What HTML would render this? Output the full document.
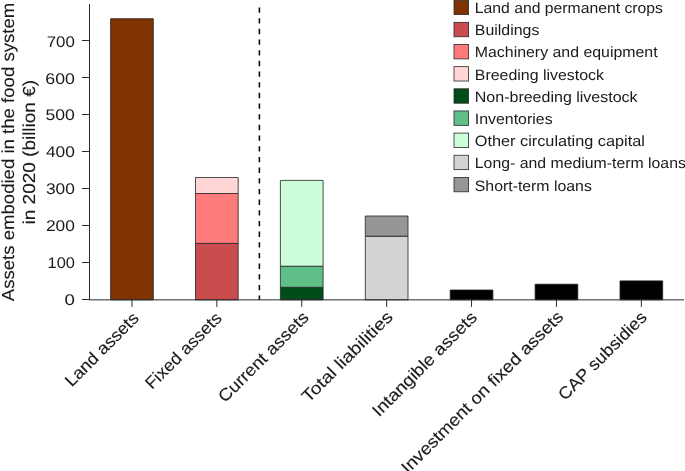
<!DOCTYPE html>
<html>
<head>
<meta charset="utf-8">
<style>
html,body{margin:0;padding:0;background:#fff;}
body{width:685px;height:471px;overflow:hidden;}
svg{display:block;will-change:transform;text-rendering:geometricPrecision;}
text{font-family:"Liberation Sans",sans-serif;fill:#1a1a1a;}
.b text{stroke:#1a1a1a;stroke-width:0.12px;}
</style>
</head>
<body>
<svg width="685" height="471" viewBox="0 0 685 471">
<rect width="685" height="471" fill="#fff"/>
<g stroke="#222" stroke-width="0.8" stroke-linejoin="round">
<rect x="110.60" y="18.70" width="42.70" height="281.15" fill="#7f3300"/>
<rect x="195.50" y="243.40" width="42.70" height="56.45" fill="#cb4c4f"/>
<rect x="195.50" y="193.50" width="42.70" height="49.90" fill="#ff7b7b"/>
<rect x="195.50" y="177.50" width="42.70" height="16.00" fill="#ffd5d5"/>
<rect x="280.40" y="287.30" width="42.70" height="12.55" fill="#004d1a"/>
<rect x="280.40" y="266.20" width="42.70" height="21.10" fill="#5fbf86"/>
<rect x="280.40" y="180.40" width="42.70" height="85.80" fill="#ccffd9"/>
<rect x="365.30" y="236.20" width="42.70" height="63.65" fill="#d3d3d3"/>
<rect x="365.30" y="216.00" width="42.70" height="20.20" fill="#969696"/>
<rect x="450.20" y="290.00" width="42.70" height="9.85" fill="#000"/>
<rect x="535.10" y="284.20" width="42.70" height="15.65" fill="#000"/>
<rect x="620.00" y="280.90" width="42.70" height="18.95" fill="#000"/>
</g>
<g stroke="#2a2a2a" stroke-width="1" fill="none">
<path d="M89.5 4V299.85"/>
<path d="M89 299.85H684"/>
<path d="M82 40.5H89.5M82 77.5H89.5M82 114.5H89.5M82 151.5H89.5M82 188.5H89.5M82 225.5H89.5M82 262.5H89.5M82 299.5H89.5"/>
<path d="M131.95 299.85V306.9M216.85 299.85V306.9M301.75 299.85V306.9M386.65 299.85V306.9M471.55 299.85V306.9M556.45 299.85V306.9M641.35 299.85V306.9"/>
<path d="M259.4 7.5V299.85" stroke-dasharray="5.33 5.34" stroke="#000" stroke-width="1.5"/>
</g>
<g font-size="15.4" text-anchor="end">
<text x="74.9" y="46.70" textLength="28.2" lengthAdjust="spacingAndGlyphs">700</text>
<text x="74.9" y="83.53" textLength="29.6" lengthAdjust="spacingAndGlyphs">600</text>
<text x="74.9" y="120.36" textLength="29.4" lengthAdjust="spacingAndGlyphs">500</text>
<text x="74.9" y="157.19" textLength="29.0" lengthAdjust="spacingAndGlyphs">400</text>
<text x="74.9" y="194.02" textLength="29.0" lengthAdjust="spacingAndGlyphs">300</text>
<text x="74.9" y="230.85" textLength="29.0" lengthAdjust="spacingAndGlyphs">200</text>
<text x="74.9" y="267.68" textLength="27.4" lengthAdjust="spacingAndGlyphs">100</text>
<text x="74.9" y="304.51" textLength="10.4" lengthAdjust="spacingAndGlyphs">0</text>
</g>
<g class="b" font-size="17.4" text-anchor="middle">
<text transform="translate(13.8,152) rotate(-90)" textLength="298.5" lengthAdjust="spacingAndGlyphs">Assets embodied in the food system</text>
<text transform="translate(35,152.2) rotate(-90)" textLength="144.5" lengthAdjust="spacingAndGlyphs">in 2020 (billion €)</text>
</g>
<g class="b" font-size="17" text-anchor="end">
<text transform="translate(139.9,319.3) rotate(-45)" textLength="96.45" lengthAdjust="spacingAndGlyphs">Land assets</text>
<text transform="translate(222.9,319.3) rotate(-45)" textLength="100.1" lengthAdjust="spacingAndGlyphs">Fixed assets</text>
<text transform="translate(309.9,318.4) rotate(-45)" textLength="120.1" lengthAdjust="spacingAndGlyphs">Current assets</text>
<text transform="translate(393.8,318.0) rotate(-45)" textLength="120.7" lengthAdjust="spacingAndGlyphs">Total liabilities</text>
<text transform="translate(478.0,318.5) rotate(-45)" textLength="140.0" lengthAdjust="spacingAndGlyphs">Intangible assets</text>
<text transform="translate(564.3,317.9) rotate(-45)" textLength="221.0" lengthAdjust="spacingAndGlyphs">Investment on fixed assets</text>
<text transform="translate(647.8,318.4) rotate(-45)" textLength="117.0" lengthAdjust="spacingAndGlyphs">CAP subsidies</text>
</g>
<g stroke="#2a2a2a" stroke-width="0.8">
<rect x="454.0" y="0.20" width="14.6" height="14.4" fill="#7f3300"/>
<rect x="454.0" y="22.35" width="14.6" height="14.4" fill="#cb4c4f"/>
<rect x="454.0" y="44.50" width="14.6" height="14.4" fill="#ff7b7b"/>
<rect x="454.0" y="66.65" width="14.6" height="14.4" fill="#ffd5d5"/>
<rect x="454.0" y="88.80" width="14.6" height="14.4" fill="#004d1a"/>
<rect x="454.0" y="110.95" width="14.6" height="14.4" fill="#5fbf86"/>
<rect x="454.0" y="133.10" width="14.6" height="14.4" fill="#ccffd9"/>
<rect x="454.0" y="155.25" width="14.6" height="14.4" fill="#d3d3d3"/>
<rect x="454.0" y="177.40" width="14.6" height="14.4" fill="#969696"/>
</g>
<g font-size="15">
<text x="474.8" y="12.95" textLength="188.2" lengthAdjust="spacingAndGlyphs">Land and permanent crops</text>
<text x="474.8" y="35.17" textLength="64.6" lengthAdjust="spacingAndGlyphs">Buildings</text>
<text x="474.8" y="57.39" textLength="182.8" lengthAdjust="spacingAndGlyphs">Machinery and equipment</text>
<text x="474.8" y="79.61" textLength="129.1" lengthAdjust="spacingAndGlyphs">Breeding livestock</text>
<text x="474.8" y="101.83" textLength="162.8" lengthAdjust="spacingAndGlyphs">Non-breeding livestock</text>
<text x="474.8" y="124.05" textLength="77.8" lengthAdjust="spacingAndGlyphs">Inventories</text>
<text x="474.8" y="146.27" textLength="170.1" lengthAdjust="spacingAndGlyphs">Other circulating capital</text>
<text x="474.8" y="168.49" textLength="211.1" lengthAdjust="spacingAndGlyphs">Long- and medium-term loans</text>
<text x="474.8" y="190.71" textLength="117.0" lengthAdjust="spacingAndGlyphs">Short-term loans</text>
</g>
</svg>
</body>
</html>
